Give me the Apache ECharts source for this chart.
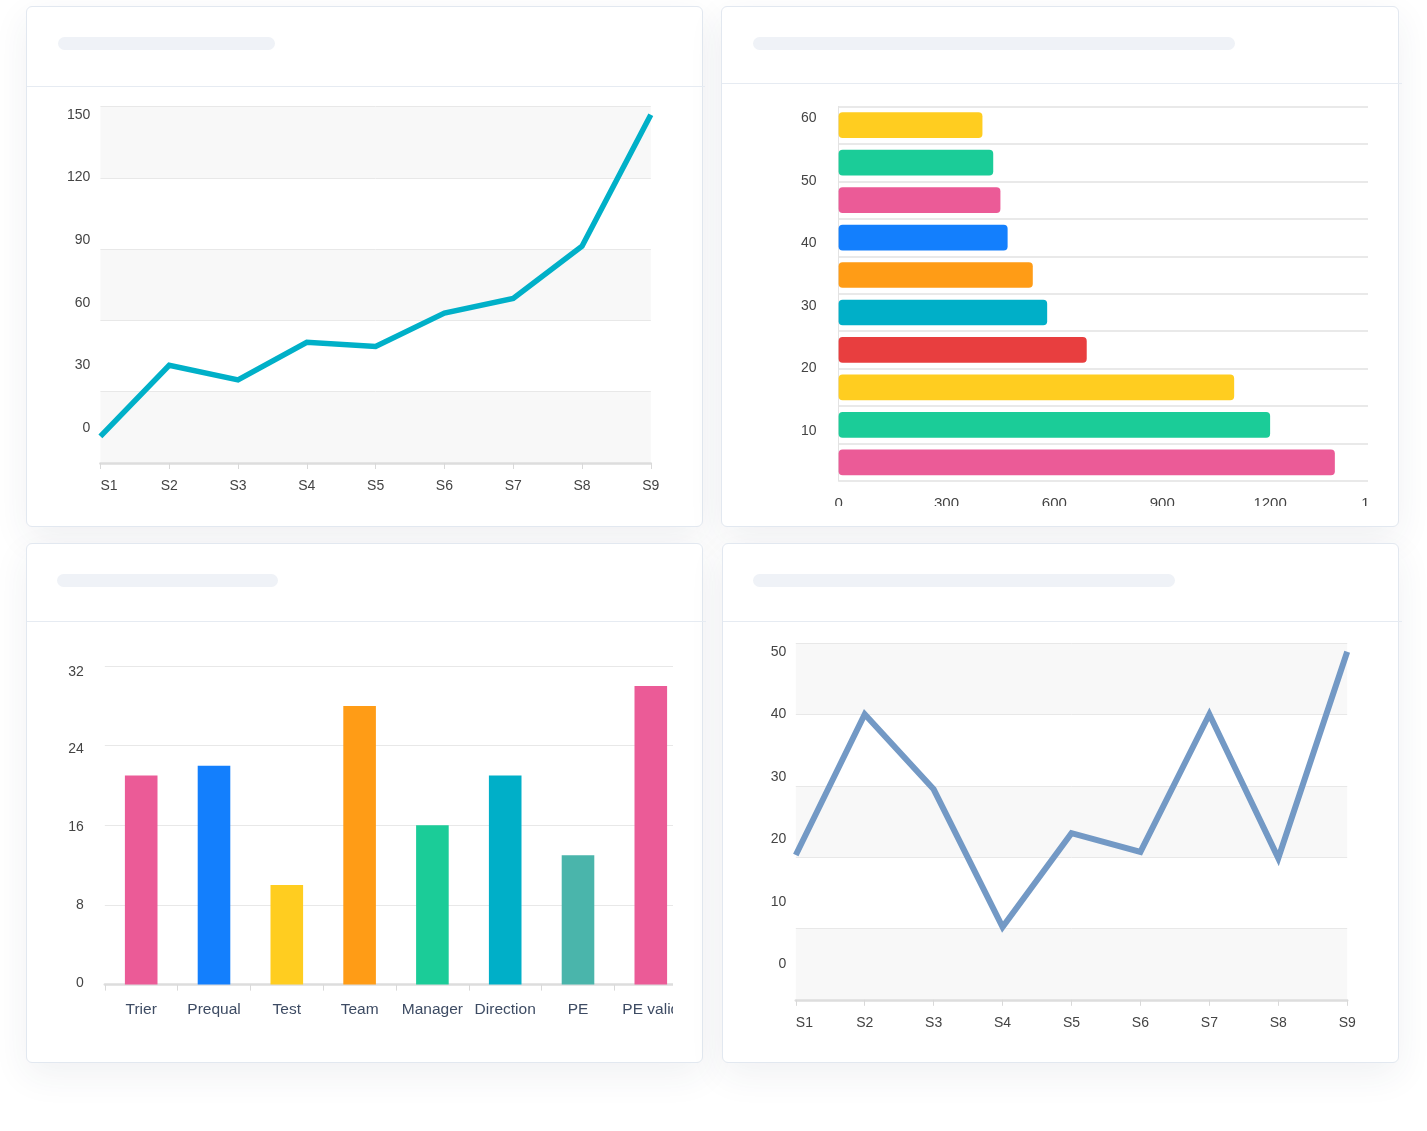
<!DOCTYPE html>
<html>
<head>
<meta charset="utf-8">
<script src="https://cdn.jsdelivr.net/npm/echarts@6/dist/echarts.min.js"></script>
<style>
html,body{margin:0;padding:0;background:#fff;width:1427px;height:1131px;overflow:hidden;font-family:'Liberation Sans',Arial,sans-serif;}
.card{position:absolute;box-sizing:border-box;background:#fff;border:1px solid #e2e8f0;border-radius:6px;box-shadow:0 12px 36px rgba(40,55,90,0.07);}
.rule{position:absolute;height:1px;background:#e6ebf2;}
.ph{position:absolute;height:13px;border-radius:7px;background:#eff2f7;}
.clip{position:absolute;overflow:hidden;}
.inner{position:absolute;left:0;top:0;}
</style>
</head>
<body>
<div class="card" style="left:26px;top:6px;width:677px;height:521px;"></div>
<div class="card" style="left:721px;top:6px;width:678px;height:521px;"></div>
<div class="card" style="left:26px;top:543px;width:677px;height:520px;"></div>
<div class="card" style="left:722px;top:543px;width:677px;height:520px;"></div>

<div class="rule" style="left:27px;top:86px;width:678px;"></div>
<div class="rule" style="left:722px;top:83px;width:680px;"></div>
<div class="rule" style="left:27px;top:621px;width:679px;"></div>
<div class="rule" style="left:723px;top:621px;width:679px;"></div>

<div class="ph" style="left:58px;top:37px;width:217px;"></div>
<div class="ph" style="left:753px;top:37px;width:482px;"></div>
<div class="ph" style="left:57px;top:574px;width:221px;"></div>
<div class="ph" style="left:753px;top:574px;width:422px;"></div>

<div class="clip" style="left:27px;top:88px;width:675px;height:438px;"><div id="c1" class="inner" style="width:675px;height:438px;"></div></div>
<div class="clip" style="left:722px;top:85px;width:646px;height:421px;"><div id="c2" class="inner" style="width:700px;height:460px;"></div></div>
<div class="clip" style="left:27px;top:622px;width:646px;height:440px;"><div id="c3" class="inner" style="width:720px;height:440px;"></div></div>
<div class="clip" style="left:723px;top:622px;width:675px;height:440px;"><div id="c4" class="inner" style="width:675px;height:440px;"></div></div>

<script>
// ---------- data ----------
const seriesCats = ['S1', 'S2', 'S3', 'S4', 'S5', 'S6', 'S7', 'S8', 'S9'];

const growthValues = [-4, 30, 23, 41, 39, 55, 62, 87, 150];
const growthTickLabels = [0, 30, 60, 90, 120, 150];

const rankCats = ['R1', 'R2', 'R3', 'R4', 'R5', 'R6', 'R7', 'R8', 'R9', 'R10'];
const rankValues = [400, 430, 450, 470, 540, 580, 690, 1100, 1200, 1380];
const rankColors = ['#ffcd20', '#1bcc98', '#eb5b97', '#137ffd', '#ff9c16', '#00afc8', '#e83e3f', '#ffcd20', '#1bcc98', '#eb5b97'];
const rankYTickLabels = [10, 20, 30, 40, 50, 60];

const stageCats = ['Trier', 'Prequal', 'Test', 'Team', 'Manager', 'Direction', 'PE', 'PE valid'];
const stageValues = [21, 22, 10, 28, 16, 21, 13, 30];
const stageColors = ['#eb5b97', '#137ffd', '#ffcd20', '#ff9c16', '#1bcc98', '#00afc8', '#4ab5ab', '#eb5b97'];
const stageTickLabels = [0, 8, 16, 24, 32];

const waveValues = [17.5, 40, 28, 6, 21, 18, 40, 17, 50];
const waveTickLabels = [0, 10, 20, 30, 40, 50];

// ---------- styles ----------
const FONT = 'Liberation Sans';
const LABEL = '#444444';
const GRIDLINE = '#e8e8e8';
const AXISLINE = '#dddddd';
const plain = v => String(v);

function bandAxis() {
  return {
    type: 'value', min: 0, max: 5, interval: 1, position: 'left',
    axisLabel: { show: false }, axisLine: { show: false }, axisTick: { show: false },
    splitLine: { show: true, lineStyle: { color: GRIDLINE, width: 1 } },
    splitArea: { show: true, areaStyle: { color: ['#f8f8f8', '#ffffff'] } }
  };
}
function labelAxis(min, max, values, margin) {
  return {
    type: 'value', min: min, max: max, position: 'left',
    axisLine: { show: false }, axisTick: { show: false }, splitLine: { show: false },
    axisLabel: { customValues: values, formatter: plain, fontSize: 14, color: LABEL, margin: margin, fontFamily: FONT }
  };
}
function seqXAxis() {
  return {
    type: 'category', data: seriesCats, boundaryGap: false,
    axisLine: { onZero: false, lineStyle: { color: AXISLINE, width: 2.5 } },
    axisTick: { show: true, length: 6, lineStyle: { color: '#d9d9d9', width: 1 } },
    axisLabel: { fontSize: 14, color: LABEL, margin: 16.5, fontFamily: FONT, alignMinLabel: 'left' },
    splitLine: { show: false }
  };
}

// ---------- chart 1 ----------
echarts.init(document.getElementById('c1')).setOption({
  animation: false,
  grid: { left: 73.4, top: 18.7, width: 550.4, height: 356.3, outerBoundsMode: 'none' },
  xAxis: seqXAxis(),
  yAxis: [bandAxis(), labelAxis(-16.76, 153.83, growthTickLabels, 10)],
  series: [{
    type: 'line', data: growthValues, yAxisIndex: 1, symbol: 'none', clip: false,
    lineStyle: { color: '#00b0c8', width: 5.5, join: 'miter' }
  }]
});

// ---------- chart 2 ----------
echarts.init(document.getElementById('c2')).setOption({
  animation: false,
  grid: { left: 116.6, top: 21.4, width: 539.4, height: 374.7, outerBoundsMode: 'none' },
  xAxis: {
    type: 'value', min: 0, max: 1500, interval: 300,
    axisLine: { show: false, onZero: false }, axisTick: { show: false }, splitLine: { show: false },
    axisLabel: { formatter: plain, fontSize: 15, color: LABEL, margin: 15.5, fontFamily: FONT }
  },
  yAxis: [
    {
      type: 'category', data: rankCats, inverse: true, position: 'left',
      axisLabel: { show: false }, axisTick: { show: false },
      axisLine: { show: true, onZero: false, lineStyle: { color: '#e3e3e3', width: 1 } },
      splitLine: { show: true, interval: 0, lineStyle: { color: '#e2e2e2', width: 1.5 } }
    },
    labelAxis(2, 61.94, rankYTickLabels, 22)
  ],
  series: [{
    type: 'bar', yAxisIndex: 0, barWidth: 25.7,
    data: rankValues.map((v, i) => ({ value: v, itemStyle: { color: rankColors[i], borderRadius: 4 } }))
  }]
});

// ---------- chart 3 ----------
echarts.init(document.getElementById('c3')).setOption({
  animation: false,
  grid: { left: 77.8, top: 44.1, width: 582.4, height: 318.5, outerBoundsMode: 'none' },
  xAxis: {
    type: 'category', data: stageCats, boundaryGap: true,
    axisLine: { onZero: false, lineStyle: { color: AXISLINE, width: 2.5 } },
    axisTick: { show: true, interval: 0, length: 6, lineStyle: { color: '#d9d9d9', width: 1 } },
    axisLabel: { interval: 0, fontSize: 15.5, color: '#3d4b63', margin: 17, fontFamily: FONT }
  },
  yAxis: [
    {
      type: 'value', min: 0, max: 32, interval: 8, position: 'left',
      axisLabel: { show: false }, axisLine: { show: false }, axisTick: { show: false },
      splitLine: { show: true, lineStyle: { color: GRIDLINE, width: 1 } }
    },
    labelAxis(-0.196, 32.587, stageTickLabels, 21)
  ],
  series: [{
    type: 'bar', yAxisIndex: 0, barWidth: 32.6,
    data: stageValues.map((v, i) => ({ value: v, itemStyle: { color: stageColors[i] } }))
  }]
});

// ---------- chart 4 ----------
echarts.init(document.getElementById('c4')).setOption({
  animation: false,
  grid: { left: 72.8, top: 21.3, width: 551.4, height: 356.5, outerBoundsMode: 'none' },
  xAxis: seqXAxis(),
  yAxis: [bandAxis(), labelAxis(-5.64, 51.34, waveTickLabels, 9.5)],
  series: [{
    type: 'line', data: waveValues, yAxisIndex: 1, symbol: 'none', clip: false,
    lineStyle: { color: '#7399c5', width: 6, join: 'miter' }
  }]
});
</script>
</body>
</html>
